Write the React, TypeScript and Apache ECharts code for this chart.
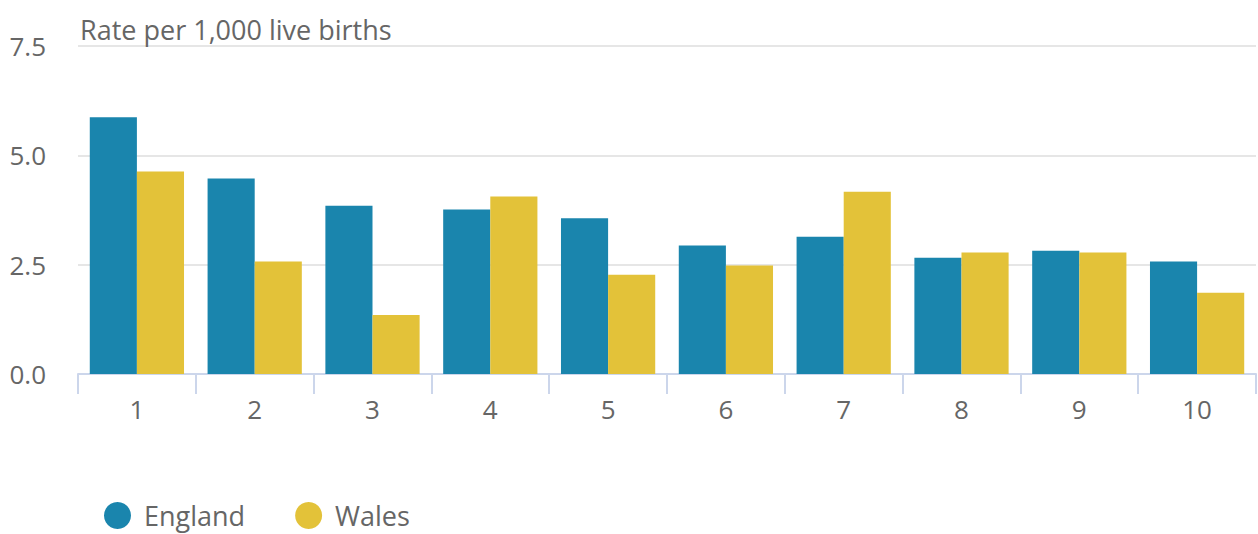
import React, { useEffect, useRef } from "react";
import * as echarts from "echarts";

const categories = ["1", "2", "3", "4", "5", "6", "7", "8", "9", "10"];
const england = [5.87, 4.47, 3.85, 3.76, 3.56, 2.94, 3.14, 2.66, 2.82, 2.57];
const wales = [4.63, 2.57, 1.35, 4.06, 2.27, 2.48, 4.17, 2.78, 2.78, 1.86];
const yTicks = [0, 2.5, 5, 7.5];

export default function App() {
  const ref = useRef<HTMLDivElement>(null);
  useEffect(() => {
    if (!ref.current) return;
    const chart = echarts.init(ref.current, undefined, { renderer: "svg" });
    const font = "'Open Sans', 'Noto Sans', sans-serif";
    chart.setOption({
      animation: false,
      textStyle: { fontFamily: font },
      title: {
        text: "Rate per 1,000 live births",
        left: 75,
        top: 11,
        textStyle: { fontFamily: font, fontSize: 27, fontWeight: "normal", color: "#666666" },
      },
      legend: {
        left: 99,
        top: 497,
        icon: "circle",
        itemWidth: 27,
        itemHeight: 27,
        itemGap: 50,
        textStyle: { fontFamily: font, fontSize: 27, color: "#666666", padding: [0, 0, 0, 8] },
        data: ["England", "Wales"],
      },
      grid: { left: 78, right: 2, top: 46, bottom: 160, containLabel: false },
      xAxis: {
        type: "category",
        data: categories,
        axisLine: { lineStyle: { color: "#ccd6eb", width: 2 } },
        axisTick: { show: true, length: 20, lineStyle: { color: "#ccd6eb", width: 2 } },
        axisLabel: { fontFamily: font, fontSize: 26, color: "#666666", margin: 22 },
      },
      yAxis: {
        type: "value",
        min: yTicks[0],
        max: yTicks[yTicks.length - 1],
        interval: 2.5,
        axisLine: { show: false },
        axisTick: { show: false },
        splitLine: { lineStyle: { color: "#e6e6e6", width: 2 } },
        axisLabel: {
          fontFamily: font,
          fontSize: 26,
          color: "#666666",
          margin: 32,
          formatter: (v: number) => v.toFixed(1),
        },
      },
      series: [
        {
          name: "England",
          type: "bar",
          data: england,
          barGap: "0%",
          barCategoryGap: "20%",
          itemStyle: { color: "#1a85ad" },
        },
        {
          name: "Wales",
          type: "bar",
          data: wales,
          barGap: "0%",
          barCategoryGap: "20%",
          itemStyle: { color: "#e3c239" },
        },
      ],
    });
    return () => chart.dispose();
  }, []);
  return (
    <div
      ref={ref}
      style={{ position: "fixed", left: 0, top: 0, width: 1258, height: 534, background: "#ffffff" }}
    />
  );
}
